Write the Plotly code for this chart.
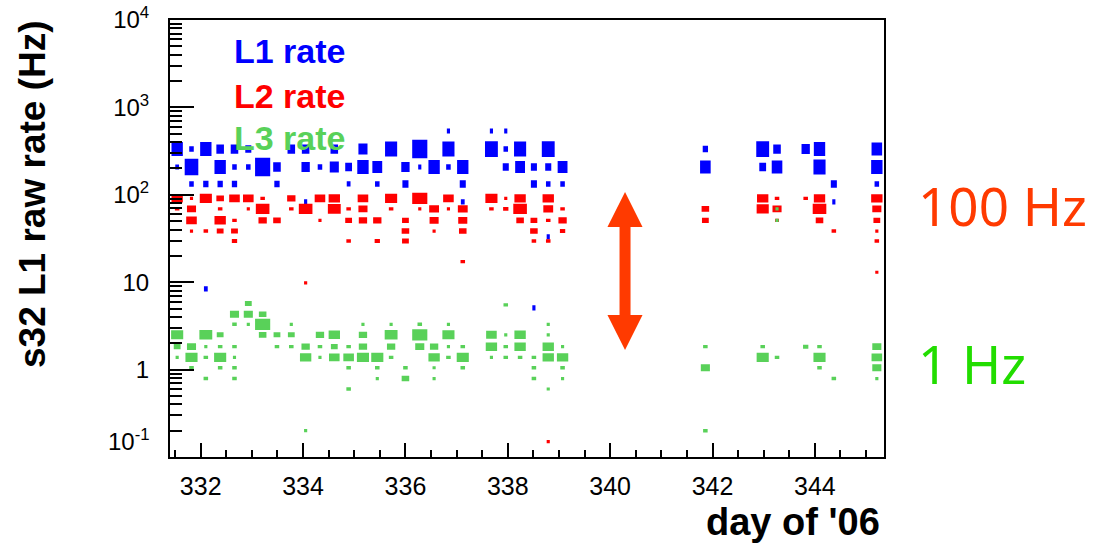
import math
import plotly.graph_objects as go

# ---------------- data ----------------
# each entry: (day of '06, raw rate in Hz, relative box size = bin content scale)
L1 = [
    (336.84, 537, .2), (337.68, 537, .2), (337.96, 537, .2),
    (331.54, 334, .75), (331.82, 334, .3), (332.10, 334, .75), (332.38, 334, .5),
    (332.66, 334, .5), (332.93, 334, .4), (333.77, 334, .5), (334.05, 334, .5),
    (334.61, 334, .5), (335.17, 334, .6), (335.72, 334, .8), (336.28, 334, 1.0),
    (336.84, 334, .8), (337.68, 334, .85), (337.96, 334, .3), (338.24, 334, .8),
    (338.79, 334, .85), (341.86, 334, .35), (342.98, 334, .85), (343.26, 334, .5),
    (343.82, 334, .55), (344.09, 334, .75), (345.21, 334, .7),
    (331.54, 208, .25), (331.82, 208, .9), (332.38, 208, .75), (332.66, 208, .3),
    (332.93, 208, .3), (333.21, 208, 1.0), (333.49, 208, .5), (334.05, 208, .55),
    (334.33, 208, .3), (334.61, 208, .6), (334.89, 208, .45), (335.17, 208, .75),
    (335.45, 208, .65), (336.00, 208, .55), (336.28, 208, .15), (336.56, 208, .75),
    (336.84, 208, .3), (337.12, 208, .75), (337.96, 208, .4), (338.24, 208, .65),
    (338.51, 208, .4), (338.79, 208, .4), (339.07, 208, .65), (341.86, 208, .7),
    (342.98, 208, .45), (343.26, 208, .7), (344.09, 208, .8), (345.21, 208, .75),
    (331.82, 133, .3), (332.10, 133, .35), (332.38, 133, .35), (332.66, 133, .35),
    (333.49, 133, .35), (334.89, 133, .25), (335.45, 133, .3), (336.00, 133, .4),
    (337.12, 133, .4), (338.51, 133, .4), (338.79, 133, .3), (339.07, 133, .3),
    (344.37, 133, .4), (345.21, 133, .3),
    (334.05, 83, .15), (337.12, 83, .25), (344.37, 83, .15),
    (332.10, 8.4, .25), (338.51, 5.1, .15), (338.79, 33, .15),
]

L2 = [
    (331.54, 91, .75), (331.82, 91, .2), (332.10, 91, .8), (332.38, 91, .5),
    (332.66, 91, .7), (332.93, 91, .7), (333.21, 91, .3), (333.77, 91, .55),
    (334.33, 91, .7), (334.61, 91, .75), (335.17, 91, .7), (335.72, 91, .8),
    (336.28, 91, 1.0), (336.84, 91, .7), (337.68, 91, .8), (337.96, 91, .2),
    (338.24, 91, .75), (338.79, 91, .75), (342.98, 91, .75), (343.26, 91, .3),
    (343.82, 91, .3), (344.09, 91, .75), (345.21, 91, .75),
    (331.54, 69, .3), (331.82, 69, .6), (332.38, 69, .3), (332.93, 69, .2),
    (333.21, 69, .9), (333.77, 69, .3), (334.05, 69, .9), (334.61, 69, .85),
    (334.89, 69, .3), (335.17, 69, .6), (335.72, 69, .3), (336.28, 69, .2),
    (336.56, 69, .65), (336.84, 69, .2), (337.12, 69, .65), (337.68, 69, .3),
    (337.96, 69, .35), (338.24, 69, .9), (338.79, 69, .65), (339.07, 69, .3),
    (341.86, 69, .5), (342.98, 69, .8), (343.26, 69, .6), (344.09, 69, .9),
    (345.21, 69, .6),
    (331.82, 51, .7), (332.38, 51, .75), (332.66, 51, .3), (333.21, 51, .55),
    (333.49, 51, .5), (334.33, 51, .15), (334.89, 51, .45), (335.17, 51, .55),
    (335.45, 51, .55), (336.00, 51, .45), (336.56, 51, .6), (337.12, 51, .6),
    (338.24, 51, .5), (338.51, 51, .45), (338.79, 51, .3), (339.07, 51, .55),
    (341.86, 51, .45), (343.26, 51, .25), (344.09, 51, .5), (345.21, 51, .45),
    (331.82, 38.5, .2), (332.10, 38.5, .3), (332.38, 38.5, .45), (332.66, 38.5, .45),
    (336.00, 38.5, .5), (336.56, 38.5, .2), (337.12, 38.5, .5), (338.51, 38.5, .5),
    (339.07, 38.5, .35), (344.37, 38.5, .3), (345.21, 38.5, .2),
    (332.66, 29.6, .35), (334.89, 29.6, .3), (335.45, 29.6, .35), (336.00, 29.6, .45),
    (338.51, 29.6, .3), (338.79, 29.6, .3), (345.21, 29.6, .3),
    (337.12, 17.2, .3),
    (334.05, 9.8, .15), (338.79, 0.15, .15), (345.21, 13, .15),
]

L3 = [
    (332.93, 5.7, .45), (337.96, 5.5, .3),
    (332.66, 4.3, .6), (332.93, 4.3, .6), (333.21, 4.3, .5),
    (332.66, 3.3, .3), (332.93, 3.3, .2), (333.21, 3.3, 1.0), (333.77, 3.3, .2),
    (335.17, 3.3, .2), (335.72, 3.3, .2), (336.28, 3.3, .3), (336.84, 3.3, .2),
    (338.79, 3.3, .2),
    (331.54, 2.5, .8), (332.10, 2.5, .85), (332.38, 2.5, .45), (333.21, 2.5, .5),
    (333.49, 2.5, .45), (333.77, 2.5, .45), (334.33, 2.5, .55), (334.61, 2.5, .75),
    (335.17, 2.5, .55), (335.72, 2.5, .85), (336.28, 2.5, 1.0), (336.84, 2.5, .8),
    (337.68, 2.5, .7), (337.96, 2.5, .2), (338.24, 2.5, .75), (338.79, 2.5, .2),
    (331.54, 1.83, .45), (331.82, 1.83, .6), (332.10, 1.83, .2), (332.38, 1.83, .3),
    (332.66, 1.83, .3), (333.49, 1.83, .3), (333.77, 1.83, .3), (334.05, 1.83, .55),
    (334.33, 1.83, .3), (334.61, 1.83, .45), (334.89, 1.83, .3), (335.17, 1.83, .55),
    (335.72, 1.83, .55), (336.28, 1.83, .6), (336.56, 1.83, .55), (336.84, 1.83, .2),
    (337.12, 1.83, .3), (337.68, 1.83, .75), (337.96, 1.83, .3), (338.24, 1.83, .75),
    (338.79, 1.83, .75), (339.07, 1.83, .2), (341.86, 1.83, .3), (342.98, 1.83, .3),
    (343.82, 1.83, .35), (344.09, 1.83, .3), (345.21, 1.83, .6),
    (331.54, 1.38, .2), (331.82, 1.38, .8), (332.10, 1.38, .3), (332.38, 1.38, .8),
    (332.66, 1.38, .2), (334.05, 1.38, .75), (334.33, 1.38, .2), (334.61, 1.38, .7),
    (334.89, 1.38, .7), (335.17, 1.38, .8), (335.45, 1.38, .8), (335.72, 1.38, .3),
    (336.56, 1.38, .75), (336.84, 1.38, .3), (337.12, 1.38, .8), (337.68, 1.38, .2),
    (337.96, 1.38, .3), (338.24, 1.38, .3), (338.51, 1.38, .3), (338.79, 1.38, .75),
    (339.07, 1.38, .75), (342.98, 1.38, .8), (343.26, 1.38, .3), (344.09, 1.38, .8),
    (345.21, 1.38, .7),
    (331.82, 1.05, .3), (332.38, 1.05, .3), (332.66, 1.05, .3), (334.89, 1.05, .3),
    (335.45, 1.05, .3), (336.00, 1.05, .3), (336.56, 1.05, .2), (337.12, 1.05, .3),
    (338.51, 1.05, .3), (339.07, 1.05, .3), (341.86, 1.05, .6), (344.09, 1.05, .3),
    (345.21, 1.05, .6),
    (332.10, 0.79, .3), (332.66, 0.79, .3), (335.45, 0.79, .2), (336.00, 0.79, .5),
    (336.56, 0.79, .2), (338.51, 0.79, .3), (339.07, 0.79, .2), (344.37, 0.79, .3),
    (345.21, 0.79, .2),
    (334.89, 0.6, .3), (338.79, 0.6, .2),
    (334.05, 0.2, .2), (341.86, 0.2, .3),
    (343.26, 69, .2), (343.26, 51, .2),
]

x_tick_days = [332, 334, 336, 338, 340, 342, 344]
y_tick_vals = [0.1, 1, 10, 100, 1000, 10000]
y_tick_text = ["", "1", "10", "10<sup>2</sup>", "10<sup>3</sup>", "10<sup>4</sup>"]
y_low_label = "10<sup>-1</sup>"     # drawn raised, as in the original
series_names = ["L1 rate", "L2 rate", "L3 rate"]

# ---------------- styling / geometry ----------------
W, H = 1101, 546
ML, MR, MT, MB = 170, 217, 20, 89
X_RANGE = [331.40, 345.35]
BIN_W = 0.279                      # day-bin width
BIN_H = [0.20, 0.122, 0.122]       # log10 rate-bin height per series
BOX_SCALE = 1.06
COLORS = ["#0000ff", "#ff0000", "#59d159"]
ORANGE = "#ff3a00"
LIME = "#22dd00"


def px_x(px):
    return (px - ML) / (W - ML - MR)


def px_y(py):
    return (H - MB - py) / (H - MT - MB)


def boxes(rows, bh):
    xs, ys = [], []
    for d, r, s in rows:
        sw = max(s * BOX_SCALE, 0.22)
        sh = max(s * BOX_SCALE, 0.3)
        hx = sw * BIN_W / 2
        ly = math.log10(r)
        hy = sh * bh / 2
        lo, hi = 10 ** (ly - hy), 10 ** (ly + hy)
        xs += [d - hx, d + hx, d + hx, d - hx, d - hx, None]
        ys += [lo, lo, hi, hi, lo, None]
    return xs, ys


fig = go.Figure()
for rows, bh, col, name in zip([L1, L2, L3], BIN_H, COLORS, series_names):
    xs, ys = boxes(rows, bh)
    fig.add_trace(go.Scatter(x=xs, y=ys, mode="lines", fill="toself",
                             fillcolor=col, line=dict(width=0, color=col),
                             name=name, hoverinfo="skip"))

minor_y = [m * 10 ** e for e in range(-1, 4) for m in range(2, 10)]

fig.update_layout(
    width=W, height=H,
    margin=dict(l=ML, r=MR, t=MT, b=MB),
    paper_bgcolor="white", plot_bgcolor="white",
    showlegend=False,
    xaxis=dict(
        range=X_RANGE, tickmode="array", tickvals=x_tick_days,
        ticks="inside", ticklen=14, tickwidth=2, tickcolor="black",
        showline=True, linewidth=2, linecolor="black", mirror=True,
        showgrid=False, zeroline=False, automargin=False,
        tickfont=dict(family="Liberation Sans, Arial", size=25, color="black"),
        ticklabelstandoff=6,
        minor=dict(dtick=0.5, tick0=332, ticks="inside", ticklen=7,
                   tickwidth=2, tickcolor="black", showgrid=False),
    ),
    yaxis=dict(
        type="log", range=[-1, 4], tickmode="array",
        tickvals=y_tick_vals, ticktext=y_tick_text,
        ticks="inside", ticklen=24, tickwidth=2, tickcolor="black",
        showline=True, linewidth=2, linecolor="black", mirror=True,
        showgrid=False, zeroline=False, automargin=False,
        tickfont=dict(family="Liberation Sans, Arial", size=24, color="black"),
        ticklabelstandoff=14,
        minor=dict(tickvals=minor_y, ticks="inside", ticklen=12,
                   tickwidth=2, tickcolor="black", showgrid=False),
    ),
)

annos = [
    dict(text="s32 L1 raw rate (Hz)", x=px_x(32), y=px_y(194), textangle=-90,
         font=dict(size=37, weight="bold", color="black"), xanchor="center", yanchor="middle"),
    dict(text="day of '06", x=px_x(882), y=px_y(522), xanchor="right", yanchor="middle",
         font=dict(size=38, weight="bold", color="black")),
    dict(text=y_low_label, x=px_x(152), y=px_y(440), xanchor="right", yanchor="middle",
         font=dict(size=24, color="black")),
    dict(text=series_names[0], x=px_x(232), y=px_y(51), xanchor="left", yanchor="middle",
         font=dict(size=34, weight="bold", color=COLORS[0])),
    dict(text=series_names[1], x=px_x(232), y=px_y(96), xanchor="left", yanchor="middle",
         font=dict(size=34, weight="bold", color=COLORS[1])),
    dict(text=series_names[2], x=px_x(232), y=px_y(138), xanchor="left", yanchor="middle",
         font=dict(size=34, weight="bold", color=COLORS[2])),
    dict(text="100 Hz", x=px_x(916), y=px_y(205), xanchor="left", yanchor="middle",
         font=dict(family="Noto Sans", size=53, color=ORANGE)),
    dict(text="1 Hz", x=px_x(916), y=px_y(363), xanchor="left", yanchor="middle",
         font=dict(family="Noto Sans", size=53, color=LIME)),
]
for a in annos:
    a.setdefault("font", {})
    a["font"].setdefault("family", "Liberation Sans, Arial")
    fig.add_annotation(xref="paper", yref="paper", showarrow=False, **a)

# double-headed arrow (annotation graphic)
cx, top, bot = 625, 192, 350
hw, sw, hh = 17.5, 5.5, 35
pts = [(cx, top), (cx + hw, top + hh), (cx + sw, top + hh), (cx + sw, bot - hh),
       (cx + hw, bot - hh), (cx, bot), (cx - hw, bot - hh), (cx - sw, bot - hh),
       (cx - sw, top + hh), (cx - hw, top + hh)]
path = "M " + " L ".join(f"{px_x(a):.4f},{px_y(b):.4f}" for a, b in pts) + " Z"
fig.add_shape(type="path", path=path, xref="paper", yref="paper",
              fillcolor=ORANGE, line=dict(width=0))

fig.write_html("out.html")
